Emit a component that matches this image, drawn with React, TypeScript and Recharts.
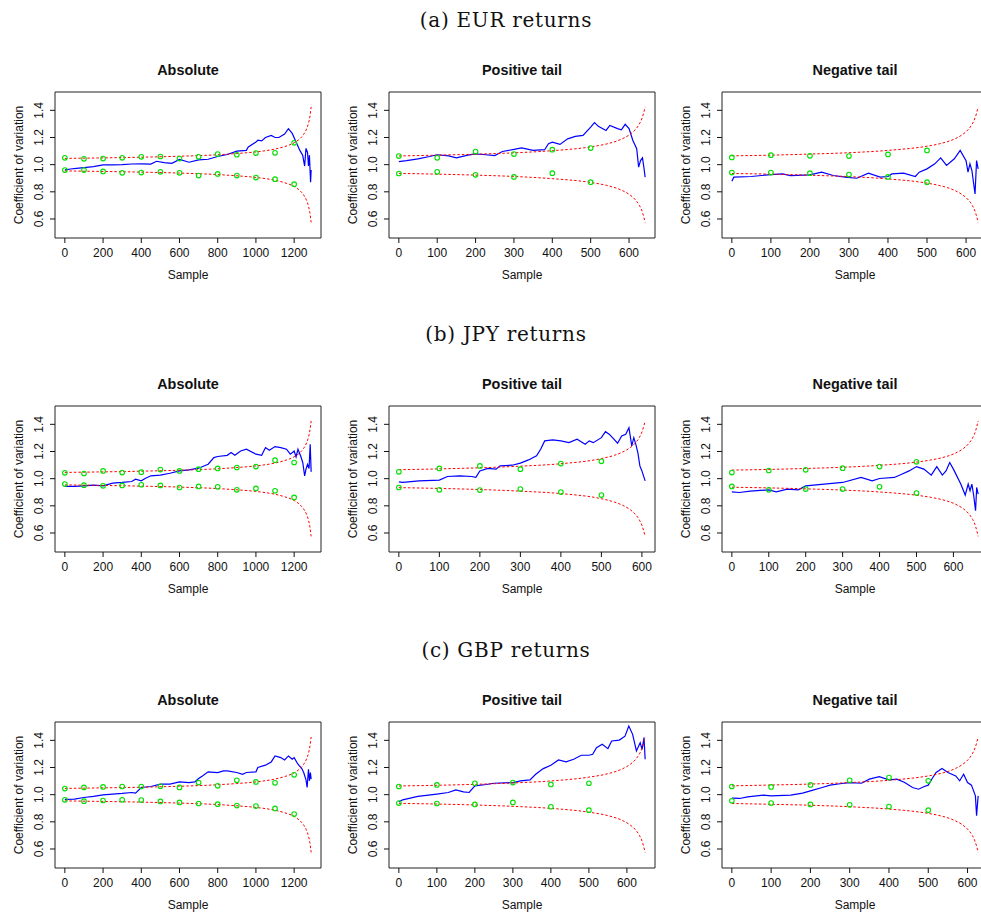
import React from "react";
import { ComposedChart, Line, Scatter, XAxis, YAxis, ReferenceArea } from "recharts";

const FONT = "'Liberation Sans', Arial, Helvetica, sans-serif";

// tick labels
const X_TICKS_ABS = [0, 200, 400, 600, 800, 1000, 1200];
const X_TICKS_TAIL = [0, 100, 200, 300, 400, 500, 600];
const Y_TICKS = [0.6, 0.8, 1.0, 1.2, 1.4];

// x positions of the green markers
const GREEN_X_ABS = [0, 100, 200, 300, 400, 500, 600, 700, 800, 900, 1000, 1100, 1200];
const GREEN_X_TAIL = [0, 100, 200, 300, 400, 500];

// red dashed bands
const BAND_ABS_X = [0, 200, 400, 600, 800, 900, 1000, 1100, 1150, 1200, 1230, 1250, 1265, 1275, 1282, 1289];
const BAND_ABS_UP = [1.046, 1.05, 1.055, 1.062, 1.073, 1.082, 1.094, 1.115, 1.133, 1.161, 1.191, 1.224, 1.263, 1.305, 1.351, 1.425];
const BAND_ABS_LO = [0.954, 0.95, 0.945, 0.938, 0.927, 0.918, 0.906, 0.885, 0.867, 0.839, 0.809, 0.776, 0.737, 0.695, 0.649, 0.575];

const BAND_EUR_POS_X = [0, 100, 200, 300, 400, 500, 542, 582, 602, 617, 627, 635, 642];
const BAND_EUR_POS_UP = [1.064, 1.07, 1.077, 1.087, 1.103, 1.131, 1.153, 1.19, 1.222, 1.26, 1.3, 1.351, 1.425];
const BAND_EUR_POS_LO = [0.936, 0.93, 0.923, 0.913, 0.897, 0.869, 0.847, 0.81, 0.778, 0.74, 0.7, 0.649, 0.575];

const BAND_EUR_NEG_X = [0, 100, 200, 300, 400, 500, 531, 571, 591, 606, 616, 624, 631];
const BAND_EUR_NEG_UP = [1.065, 1.07, 1.078, 1.088, 1.105, 1.136, 1.153, 1.19, 1.222, 1.26, 1.3, 1.351, 1.425];
const BAND_EUR_NEG_LO = [0.935, 0.93, 0.922, 0.912, 0.895, 0.864, 0.847, 0.81, 0.778, 0.74, 0.7, 0.649, 0.575];

const BAND_JPY_POS_X = [0, 100, 200, 300, 400, 500, 533, 553, 568, 583, 593, 601, 608];
const BAND_JPY_POS_UP = [1.066, 1.072, 1.08, 1.092, 1.11, 1.148, 1.173, 1.197, 1.222, 1.26, 1.3, 1.351, 1.425];
const BAND_JPY_POS_LO = [0.934, 0.928, 0.92, 0.908, 0.89, 0.852, 0.827, 0.803, 0.778, 0.74, 0.7, 0.649, 0.575];

const BAND_JPY_NEG_X = [0, 100, 200, 300, 400, 500, 540, 567, 607, 627, 642, 652, 660, 667];
const BAND_JPY_NEG_UP = [1.063, 1.068, 1.075, 1.084, 1.098, 1.122, 1.138, 1.153, 1.19, 1.222, 1.26, 1.3, 1.351, 1.425];
const BAND_JPY_NEG_LO = [0.937, 0.932, 0.925, 0.916, 0.902, 0.878, 0.862, 0.847, 0.81, 0.778, 0.74, 0.7, 0.649, 0.575];

const BAND_GBP_POS_X = [0, 100, 200, 300, 400, 500, 548, 588, 608, 623, 633, 641, 648];
const BAND_GBP_POS_UP = [1.064, 1.069, 1.076, 1.086, 1.101, 1.129, 1.153, 1.19, 1.222, 1.26, 1.3, 1.351, 1.425];
const BAND_GBP_POS_LO = [0.936, 0.931, 0.924, 0.914, 0.899, 0.871, 0.847, 0.81, 0.778, 0.74, 0.7, 0.649, 0.575];

const BAND_GBP_NEG_X = [0, 100, 200, 300, 400, 500, 527, 567, 587, 602, 612, 620, 627];
const BAND_GBP_NEG_UP = [1.065, 1.071, 1.078, 1.089, 1.106, 1.138, 1.153, 1.19, 1.222, 1.26, 1.3, 1.351, 1.425];
const BAND_GBP_NEG_LO = [0.935, 0.929, 0.922, 0.911, 0.894, 0.862, 0.847, 0.81, 0.778, 0.74, 0.7, 0.649, 0.575];

// blue sample paths [sample, cv]
const EUR_ABS_PATH: [number, number][] = [
  [0, 0.962], [30, 0.968], [60, 0.972], [100, 0.978], [150, 0.985], [200, 0.999], [250, 0.998], [300, 1.0],
  [350, 1.005], [400, 1.006], [450, 1.004], [480, 1.025], [520, 1.015], [560, 1.01], [600, 1.038], [650, 1.018],
  [700, 1.035], [750, 1.04], [800, 1.06], [850, 1.075], [900, 1.1], [950, 1.105], [960, 1.13], [1000, 1.166],
  [1010, 1.18], [1030, 1.175], [1050, 1.2], [1080, 1.215], [1100, 1.2], [1120, 1.2], [1150, 1.225], [1170, 1.265],
  [1190, 1.23], [1210, 1.166], [1230, 1.105], [1245, 1.067], [1255, 0.99], [1262, 1.12], [1270, 1.09],
  [1275, 0.99], [1280, 1.07], [1286, 0.87], [1289, 0.96],
];
const EUR_POS_PATH: [number, number][] = [
  [0, 1.023], [20, 1.03], [50, 1.043], [80, 1.06], [100, 1.073], [130, 1.065], [150, 1.05], [180, 1.07],
  [200, 1.08], [220, 1.075], [250, 1.067], [270, 1.097], [300, 1.112], [320, 1.124], [350, 1.105], [380, 1.11],
  [390, 1.154], [400, 1.166], [420, 1.149], [440, 1.19], [460, 1.208], [480, 1.215], [500, 1.277], [510, 1.31],
  [520, 1.282], [540, 1.252], [550, 1.289], [570, 1.265], [580, 1.257], [590, 1.297], [600, 1.265], [610, 1.178],
  [620, 1.117], [625, 0.982], [630, 1.03], [635, 1.05], [638, 0.994], [642, 0.908],
];
const EUR_NEG_PATH: [number, number][] = [
  [0, 0.878], [5, 0.908], [50, 0.913], [100, 0.927], [130, 0.932], [150, 0.92], [200, 0.925], [230, 0.945],
  [260, 0.92], [290, 0.908], [320, 0.9], [350, 0.937], [380, 0.908], [400, 0.913], [410, 0.932], [440, 0.937],
  [470, 0.913], [480, 0.945], [500, 0.969], [520, 1.006], [535, 1.05], [550, 0.994], [570, 1.043], [585, 1.105],
  [600, 1.03], [605, 0.945], [610, 1.006], [615, 0.957], [623, 0.785], [627, 1.03], [631, 0.969],
];
const JPY_ABS_PATH: [number, number][] = [
  [0, 0.943], [50, 0.943], [100, 0.947], [150, 0.952], [200, 0.947], [250, 0.967], [300, 0.972], [350, 0.979],
  [370, 0.996], [400, 0.984], [420, 1.001], [450, 1.021], [500, 1.026], [550, 1.04], [600, 1.057], [650, 1.065],
  [700, 1.077], [750, 1.106], [780, 1.155], [800, 1.163], [850, 1.172], [870, 1.192], [890, 1.172], [920, 1.204],
  [950, 1.217], [1000, 1.18], [1030, 1.172], [1050, 1.229], [1070, 1.209], [1100, 1.236], [1130, 1.229],
  [1160, 1.217], [1180, 1.18], [1200, 1.204], [1210, 1.16], [1220, 1.217], [1235, 1.163], [1245, 1.119],
  [1255, 1.021], [1262, 1.07], [1270, 1.106], [1278, 1.075], [1284, 1.253], [1289, 1.05],
];
const JPY_POS_PATH: [number, number][] = [
  [0, 0.977], [10, 0.972], [50, 0.984], [100, 0.989], [120, 1.016], [150, 1.021], [180, 1.016], [190, 1.009],
  [200, 1.057], [220, 1.075], [240, 1.07], [250, 1.094], [280, 1.099], [300, 1.114], [320, 1.138], [340, 1.168],
  [350, 1.217], [360, 1.278], [380, 1.285], [400, 1.278], [420, 1.265], [440, 1.29], [460, 1.253], [470, 1.278],
  [480, 1.265], [500, 1.302], [510, 1.346], [520, 1.326], [540, 1.261], [550, 1.314], [560, 1.326], [568, 1.375],
  [575, 1.241], [580, 1.302], [585, 1.253], [590, 1.192], [595, 1.094], [600, 1.057], [608, 0.984],
];
const JPY_NEG_PATH: [number, number][] = [
  [0, 0.903], [20, 0.898], [50, 0.908], [100, 0.918], [120, 0.903], [150, 0.923], [180, 0.918], [200, 0.947],
  [250, 0.96], [300, 0.972], [350, 1.009], [380, 0.984], [400, 1.001], [440, 1.009], [460, 1.033], [480, 1.057],
  [500, 1.089], [520, 1.07], [540, 1.026], [555, 1.089], [570, 1.026], [580, 1.057], [590, 1.119], [600, 1.07],
  [620, 0.96], [632, 0.879], [640, 0.96], [645, 0.911], [650, 0.96], [655, 0.874], [660, 0.764], [663, 0.935],
  [667, 0.886],
];
const GBP_ABS_PATH: [number, number][] = [
  [0, 0.965], [50, 0.967], [100, 0.979], [150, 0.987], [200, 0.999], [250, 1.004], [300, 1.009], [350, 1.016],
  [370, 1.011], [400, 1.053], [450, 1.06], [500, 1.077], [550, 1.077], [600, 1.094], [650, 1.089], [680, 1.094],
  [700, 1.119], [720, 1.138], [750, 1.168], [800, 1.163], [830, 1.175], [850, 1.175], [900, 1.163], [930, 1.15],
  [950, 1.163], [1000, 1.168], [1010, 1.2], [1050, 1.217], [1080, 1.241], [1100, 1.285], [1130, 1.273],
  [1150, 1.256], [1170, 1.285], [1190, 1.261], [1200, 1.273], [1220, 1.224], [1240, 1.192], [1250, 1.163],
  [1262, 1.109], [1268, 1.053], [1275, 1.187], [1280, 1.102], [1285, 1.163], [1289, 1.114],
];
const GBP_POS_PATH: [number, number][] = [
  [0, 0.947], [10, 0.962], [50, 0.987], [100, 1.004], [130, 1.016], [150, 1.035], [170, 1.021], [185, 1.016],
  [200, 1.065], [230, 1.075], [250, 1.084], [300, 1.089], [320, 1.102], [345, 1.109], [360, 1.15], [380, 1.192],
  [400, 1.217], [420, 1.256], [440, 1.241], [460, 1.261], [480, 1.29], [500, 1.29], [510, 1.297], [520, 1.346],
  [535, 1.371], [550, 1.339], [560, 1.395], [580, 1.402], [595, 1.431], [605, 1.505], [615, 1.444], [625, 1.322],
  [635, 1.383], [640, 1.334], [645, 1.42], [648, 1.261],
];
const GBP_NEG_PATH: [number, number][] = [
  [0, 0.974], [20, 0.972], [40, 0.984], [80, 0.996], [100, 0.991], [150, 0.996], [180, 1.011], [200, 1.028],
  [230, 1.053], [250, 1.07], [280, 1.082], [300, 1.089], [330, 1.084], [350, 1.114], [375, 1.133], [400, 1.109],
  [420, 1.114], [440, 1.089], [460, 1.053], [475, 1.04], [490, 1.06], [500, 1.07], [510, 1.119], [520, 1.163],
  [535, 1.192], [550, 1.163], [570, 1.138], [580, 1.102], [590, 1.15], [600, 1.089], [610, 1.07], [620, 0.991],
  [623, 0.845], [627, 0.991],
];

// green markers
const EUR_ABS_UP = [1.05, 1.043, 1.045, 1.05, 1.058, 1.06, 1.045, 1.058, 1.078, 1.073, 1.085, 1.087, 1.161];
const EUR_ABS_LO = [0.96, 0.96, 0.95, 0.94, 0.942, 0.947, 0.94, 0.92, 0.932, 0.92, 0.905, 0.893, 0.856];
const EUR_POS_UP = [1.063, 1.05, 1.097, 1.078, 1.11, 1.122];
const EUR_POS_LO = [0.935, 0.947, 0.925, 0.91, 0.937, 0.871];
const EUR_NEG_UP = [1.053, 1.07, 1.065, 1.063, 1.075, 1.105];
const EUR_NEG_LO = [0.942, 0.942, 0.937, 0.927, 0.91, 0.871];
const JPY_ABS_UP = [1.043, 1.038, 1.057, 1.045, 1.048, 1.067, 1.057, 1.07, 1.075, 1.082, 1.089, 1.136, 1.119];
const JPY_ABS_LO = [0.96, 0.952, 0.947, 0.95, 0.955, 0.95, 0.935, 0.943, 0.94, 0.918, 0.928, 0.911, 0.862];
const JPY_POS_UP = [1.05, 1.075, 1.094, 1.07, 1.111, 1.128];
const JPY_POS_LO = [0.935, 0.918, 0.916, 0.923, 0.901, 0.879];
const JPY_NEG_UP = [1.045, 1.06, 1.065, 1.077, 1.089, 1.124];
const JPY_NEG_LO = [0.943, 0.918, 0.923, 0.923, 0.94, 0.894];
const GBP_ABS_UP = [1.045, 1.053, 1.057, 1.06, 1.06, 1.062, 1.053, 1.089, 1.065, 1.106, 1.094, 1.087, 1.146];
const GBP_ABS_LO = [0.962, 0.952, 0.957, 0.962, 0.96, 0.95, 0.943, 0.935, 0.93, 0.92, 0.916, 0.899, 0.857];
const GBP_POS_UP = [1.06, 1.072, 1.084, 1.089, 1.075, 1.084];
const GBP_POS_LO = [0.938, 0.935, 0.928, 0.943, 0.911, 0.886];
const GBP_NEG_UP = [1.06, 1.057, 1.072, 1.106, 1.126, 1.102];
const GBP_NEG_LO = [0.955, 0.938, 0.928, 0.925, 0.913, 0.886];

const ROW_TITLES = ["(a) EUR returns", "(b) JPY returns", "(c) GBP returns"];
const PANEL_TITLES = ["Absolute", "Positive tail", "Negative tail"];

const COL_LEFT = [0, 334, 667];
const ROW_TOP = [50, 364, 680];
const BOX_L = 55;
const BOX_T = 42;
const BOX_W = 266;
const BOX_H = 146;
const Y_DOMAIN: [number, number] = [0.46, 1.535];

type PanelSpec = {
  path: [number, number][];
  bandX: number[];
  bandUp: number[];
  bandLo: number[];
  greenX: number[];
  greenUp: number[];
  greenLo: number[];
  ticks: number[];
};

const GRID: PanelSpec[][] = [
  [
    { path: EUR_ABS_PATH, bandX: BAND_ABS_X, bandUp: BAND_ABS_UP, bandLo: BAND_ABS_LO, greenX: GREEN_X_ABS, greenUp: EUR_ABS_UP, greenLo: EUR_ABS_LO, ticks: X_TICKS_ABS },
    { path: EUR_POS_PATH, bandX: BAND_EUR_POS_X, bandUp: BAND_EUR_POS_UP, bandLo: BAND_EUR_POS_LO, greenX: GREEN_X_TAIL, greenUp: EUR_POS_UP, greenLo: EUR_POS_LO, ticks: X_TICKS_TAIL },
    { path: EUR_NEG_PATH, bandX: BAND_EUR_NEG_X, bandUp: BAND_EUR_NEG_UP, bandLo: BAND_EUR_NEG_LO, greenX: GREEN_X_TAIL, greenUp: EUR_NEG_UP, greenLo: EUR_NEG_LO, ticks: X_TICKS_TAIL },
  ],
  [
    { path: JPY_ABS_PATH, bandX: BAND_ABS_X, bandUp: BAND_ABS_UP, bandLo: BAND_ABS_LO, greenX: GREEN_X_ABS, greenUp: JPY_ABS_UP, greenLo: JPY_ABS_LO, ticks: X_TICKS_ABS },
    { path: JPY_POS_PATH, bandX: BAND_JPY_POS_X, bandUp: BAND_JPY_POS_UP, bandLo: BAND_JPY_POS_LO, greenX: GREEN_X_TAIL, greenUp: JPY_POS_UP, greenLo: JPY_POS_LO, ticks: X_TICKS_TAIL },
    { path: JPY_NEG_PATH, bandX: BAND_JPY_NEG_X, bandUp: BAND_JPY_NEG_UP, bandLo: BAND_JPY_NEG_LO, greenX: GREEN_X_TAIL, greenUp: JPY_NEG_UP, greenLo: JPY_NEG_LO, ticks: X_TICKS_TAIL },
  ],
  [
    { path: GBP_ABS_PATH, bandX: BAND_ABS_X, bandUp: BAND_ABS_UP, bandLo: BAND_ABS_LO, greenX: GREEN_X_ABS, greenUp: GBP_ABS_UP, greenLo: GBP_ABS_LO, ticks: X_TICKS_ABS },
    { path: GBP_POS_PATH, bandX: BAND_GBP_POS_X, bandUp: BAND_GBP_POS_UP, bandLo: BAND_GBP_POS_LO, greenX: GREEN_X_TAIL, greenUp: GBP_POS_UP, greenLo: GBP_POS_LO, ticks: X_TICKS_TAIL },
    { path: GBP_NEG_PATH, bandX: BAND_GBP_NEG_X, bandUp: BAND_GBP_NEG_UP, bandLo: BAND_GBP_NEG_LO, greenX: GREEN_X_TAIL, greenUp: GBP_NEG_UP, greenLo: GBP_NEG_LO, ticks: X_TICKS_TAIL },
  ],
];

const toPoints = (xs: number[], ys: number[]) => xs.map((x, i) => ({ x, y: ys[i] }));

const YTick = (props: any) => {
  const { y, payload } = props;
  const bx = BOX_L - 11.7;
  return (
    <text
      x={bx}
      y={y}
      transform={`rotate(-90 ${bx} ${y})`}
      textAnchor="middle"
      fontSize={12}
      fontFamily={FONT}
      fill="#111"
    >
      {Number(payload.value).toFixed(1)}
    </text>
  );
};

const GreenDot = (p: any) => (
  <circle cx={p.cx} cy={p.cy} r={2.3} fill="none" stroke="#00e000" strokeWidth={1.1} />
);

function Panel({ spec, title, left, top }: { spec: PanelSpec; title: string; left: number; top: number }) {
  const n = spec.bandX[spec.bandX.length - 1];
  const xDomain: [number, number] = [-0.04 * n, 1.04 * n];
  const pathData = spec.path.map(([x, y]) => ({ x, y }));
  const chartW = BOX_L + BOX_W + 10;
  const chartH = BOX_T + BOX_H + 48;

  return (
    <div style={{ position: "absolute", left, top, width: chartW, height: chartH }}>
      <ComposedChart width={chartW} height={chartH} margin={{ top: BOX_T, right: 10, left: 0, bottom: 0 }}>
        <XAxis
          type="number"
          dataKey="x"
          domain={xDomain}
          allowDataOverflow
          ticks={spec.ticks}
          interval={0}
          height={48}
          axisLine={false}
          tickLine={{ stroke: "#111" }}
          tickSize={5}
          tickMargin={5.5}
          tick={{ fontSize: 12, fill: "#111", fontFamily: FONT }}
        />
        <YAxis
          type="number"
          dataKey="y"
          domain={Y_DOMAIN}
          allowDataOverflow
          ticks={Y_TICKS}
          interval={0}
          width={BOX_L}
          axisLine={false}
          tickLine={{ stroke: "#111" }}
          tickSize={5}
          tick={<YTick />}
        />
        <ReferenceArea
          x1={xDomain[0]}
          x2={xDomain[1]}
          y1={Y_DOMAIN[0]}
          y2={Y_DOMAIN[1]}
          fill="none"
          stroke="#222"
          strokeWidth={1}
          ifOverflow="visible"
        />
        <Line data={pathData} dataKey="y" type="linear" stroke="#0000ff" strokeWidth={1.2} dot={false} activeDot={false} isAnimationActive={false} />
        <Line data={toPoints(spec.bandX, spec.bandUp)} dataKey="y" type="monotone" stroke="#ff0000" strokeWidth={1} strokeDasharray="2.5 2" dot={false} activeDot={false} isAnimationActive={false} />
        <Line data={toPoints(spec.bandX, spec.bandLo)} dataKey="y" type="monotone" stroke="#ff0000" strokeWidth={1} strokeDasharray="2.5 2" dot={false} activeDot={false} isAnimationActive={false} />
        <Scatter data={toPoints(spec.greenX, spec.greenUp)} shape={GreenDot} isAnimationActive={false} />
        <Scatter data={toPoints(spec.greenX, spec.greenLo)} shape={GreenDot} isAnimationActive={false} />
      </ComposedChart>
      <div
        style={{
          position: "absolute", left: BOX_L, top: BOX_T - 30.5, width: BOX_W, height: 16, lineHeight: "16px",
          textAlign: "center", fontFamily: FONT, fontWeight: "bold", fontSize: 14.4, color: "#111", whiteSpace: "nowrap",
        }}
      >
        {title}
      </div>
      <div
        style={{
          position: "absolute", left: BOX_L, top: BOX_T + BOX_H + 29.8, width: BOX_W, height: 14, lineHeight: "14px",
          textAlign: "center", fontFamily: FONT, fontSize: 12, color: "#111", whiteSpace: "nowrap",
        }}
      >
        Sample
      </div>
      <div
        style={{
          position: "absolute", left: 18.5 - 100, top: BOX_T + BOX_H / 2 - 7, width: 200, height: 14, lineHeight: "14px",
          textAlign: "center", fontFamily: FONT, fontSize: 12, color: "#111", whiteSpace: "nowrap",
          transform: "rotate(-90deg)", transformOrigin: "50% 50%",
        }}
      >
        Coefficient of variation
      </div>
    </div>
  );
}

export default function App() {
  return (
    <div style={{ position: "absolute", left: 0, top: 0, width: 981, height: 915, overflow: "hidden", background: "#fff" }}>
      {ROW_TITLES.map((t, r) => (
        <div
          key={t}
          style={{
            position: "absolute", left: 306, top: 7.7 + ROW_TOP[r] - 50, width: 400, height: 24, lineHeight: "24px",
            textAlign: "center", fontFamily: "'DejaVu Serif', 'Liberation Serif', serif", fontSize: 20,
            letterSpacing: 0.7, color: "#111", whiteSpace: "nowrap",
          }}
        >
          {t}
        </div>
      ))}
      {GRID.map((row, r) =>
        row.map((spec, c) => (
          <Panel key={`${r}-${c}`} spec={spec} title={PANEL_TITLES[c]} left={COL_LEFT[c]} top={ROW_TOP[r]} />
        ))
      )}
    </div>
  );
}
